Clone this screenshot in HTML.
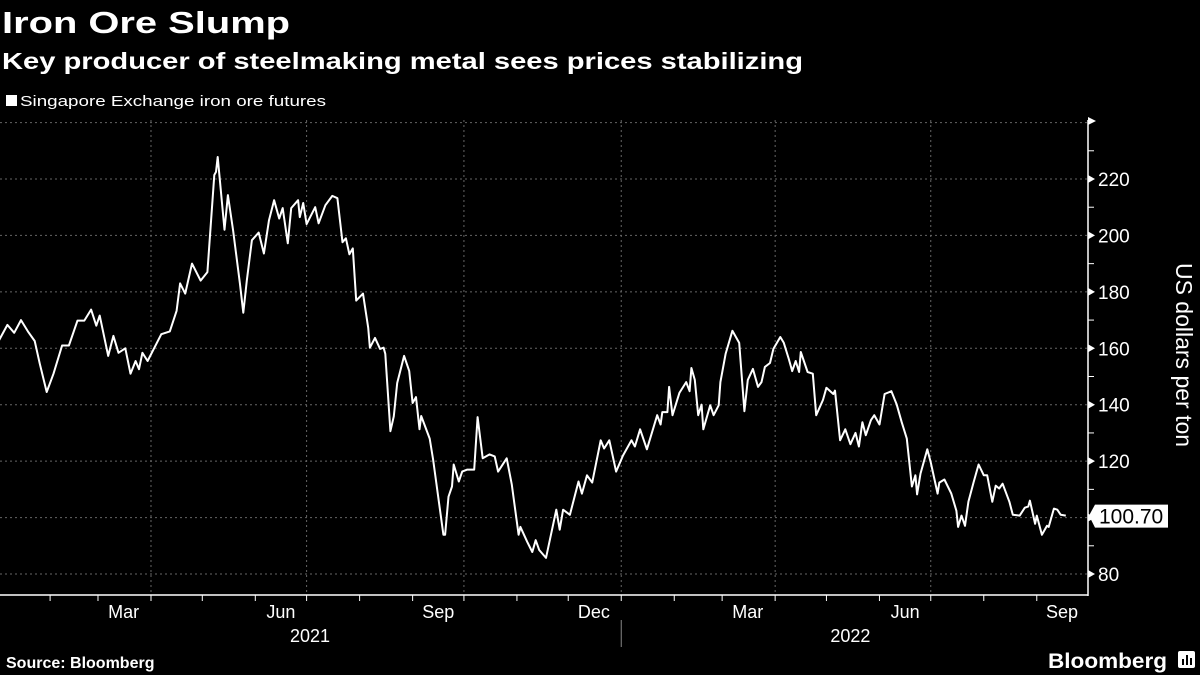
<!DOCTYPE html>
<html><head><meta charset="utf-8"><style>
html,body{margin:0;padding:0;background:#000;}
svg{display:block;font-family:"Liberation Sans",sans-serif;}
</style></head><body>
<svg id="chart" width="1200" height="675" viewBox="0 0 1200 675" xmlns="http://www.w3.org/2000/svg">
<rect width="1200" height="675" fill="#000"/>
<text x="2" y="33" fill="#fff" font-size="31" font-weight="bold" textLength="288" lengthAdjust="spacingAndGlyphs">Iron Ore Slump</text>
<text x="2" y="69" fill="#fff" font-size="23" font-weight="bold" textLength="801" lengthAdjust="spacingAndGlyphs">Key producer of steelmaking metal sees prices stabilizing</text>
<rect x="6" y="95" width="11" height="11" fill="#fff"/>
<text x="20" y="106" fill="#fff" font-size="15" textLength="306" lengthAdjust="spacingAndGlyphs">Singapore Exchange iron ore futures</text>
<g id="grid"></g>
<g id="axes"></g>
<g id="series"></g>
<text transform="translate(1176,355) rotate(90)" text-anchor="middle" fill="#fff" font-size="23">US dollars per ton</text>
<text x="6" y="668" fill="#fff" font-size="16" font-weight="bold">Source: Bloomberg</text>
<text x="1048" y="668" fill="#fff" font-size="21" font-weight="bold" textLength="119" lengthAdjust="spacingAndGlyphs">Bloomberg</text>
<g>
<rect x="1178" y="651" width="17" height="17" rx="2" fill="#fff"/>
<rect x="1182" y="659" width="2" height="6" fill="#000"/><rect x="1186" y="655" width="2" height="10" fill="#000"/><rect x="1190" y="658" width="2" height="7" fill="#000"/>
</g>
</svg>
<script>
const days = [0,6,10,14,18,22,25,29,33,38,42,47,51,55,58,60,65,68,71,75,78,81,83,85,88,96,101,105,107,110,114,119,123,127,128,129,133,135,138,142,144,146,149,153,156,159,162,165,167,170,172,176,177,179,181,186,188,192,196,199,202,204,206,208,210,214,217,218,221,224,226,227,230,232,234,238,241,243,245,247,248,253,255,261,262,264,266,267,270,272,275,279,281,284,288,291,293,298,301,305,306,310,313,315,317,321,327,329,331,335,340,342,345,348,353,355,358,362,366,371,373,376,380,386,388,389,392,393,395,399,403,405,406,408,410,412,413,417,419,422,423,426,430,434,437,439,442,445,447,449,452,454,458,460,463,465,467,469,470,474,477,479,483,485,489,490,493,496,499,502,504,506,508,511,513,516,519,523,526,529,532,535,537,538,540,544,546,550,551,554,558,561,562,564,566,568,571,574,577,579,582,584,586,588,592,594,598,601,603,604,607,608,611,614,615,618,620,622,625];
const prices = [161.6,168.3,165.5,170,166,162.6,154.5,144.5,151,161,161,169.8,169.8,173.7,168,171.6,157.3,164.4,158.4,160,151,155.5,152.6,158.4,155.5,165,166,173.3,183,179.4,190,184,187,221.4,222.5,227.8,202,214.3,201.8,183,172.6,184,198.3,201,193.6,205.4,212.5,206,209.7,197.2,209.7,212.5,206.5,211.5,204,210,204.3,210.7,214,213.2,197.6,199,193.3,195.4,176.9,179.4,167.3,160.2,163.7,159.8,160.2,158,130.6,135.9,147.7,157.3,152,140.6,142.7,131.3,136,128,120.6,93.9,93.9,107.4,111,118.8,112.8,116.3,117,117,135.6,121,122.4,121.7,116.3,121,111.7,93.9,96.7,91.4,87.8,92,88.5,85.7,102.8,95.7,102.8,101,112.8,108.5,115,112.4,127.4,124.5,127.4,116.3,122,127.4,125.2,131.3,124.2,136.3,133,137.4,137.4,146.3,136.3,144.2,148,144.8,153,148.8,136.3,140,131.3,139.8,136.3,139.8,148,158,166.2,161.9,137.7,148.8,152.7,146.3,148,153.4,154.8,159.8,164,162,156.2,151.9,155.5,151.6,158.7,151.6,151,136.3,141.7,146,143.8,145,127.4,131.3,126,130,125.2,133.8,129.2,134.5,136.3,133,143.8,144.8,140.2,133.8,128,111,115,108.2,115.6,124.2,119.5,108.5,112.4,113.5,108.5,102.4,96.7,100.7,97.1,105.6,112.4,118.8,115,115,105.6,111.3,110.3,112,105.6,101,100.7,103.5,103.9,106,97.8,100.7,93.9,97.1,96.7,103.2,102.8,101,100.7];
const yTicks = [80,100,120,140,160,180,200,220];
const monthStarts = [0,31,59,90,120,151,181,212,243,273,304,334,365,396,424,455,485,516,546,577,608];
const gridDays = [90,181,273,365,455,546];
const monthLabels = ["Mar","Jun","Sep","Dec","Mar","Jun","Sep"];
const monthLabelDays = [74,166,258,349,439,531,623];
const yearLabels = ["2021","2022"];
const yearLabelDays = [183,499];
const lastLabel = "100.70";

const NS = "http://www.w3.org/2000/svg";
const X1 = 1088;
function xs(d){ return (d - 1.7) * 1.71; }
function ys(v){ return 179 + (220 - v) * 56.43 / 20; }
function mk(tag, attrs, parent){ const e = document.createElementNS(NS, tag); for (const k in attrs) e.setAttribute(k, attrs[k]); parent.appendChild(e); return e; }
const grid = document.getElementById('grid'), axes = document.getElementById('axes'), series = document.getElementById('series');

for (const v of yTicks.concat([240])) {
  const l = mk('line', {x1:0, x2:X1, y1:ys(v), y2:ys(v), stroke:'#666', 'stroke-width':1, 'stroke-dasharray':'2,3'}, grid);
  
  
}
for (const d of gridDays) {
  const l = mk('line', {x1:xs(d), x2:xs(d), y1:120, y2:595, stroke:'#666', 'stroke-width':1, 'stroke-dasharray':'2,3'}, grid);
  
  
}
let a = mk('line', {x1:X1, x2:X1, y1:120, y2:596, stroke:'#fff', 'stroke-width':1.5}, axes);


a = mk('line', {x1:0, x2:X1, y1:595, y2:595, stroke:'#fff', 'stroke-width':1.5}, axes);


a = mk('path', {d:`M${X1},117 L${X1+8},121 L${X1},125 Z`, fill:'#fff'}, axes);


for (let v = 90; v <= 230; v += 20) {
  const t = mk('line', {x1:X1, x2:X1+6, y1:ys(v), y2:ys(v), stroke:'#fff', 'stroke-width':1}, axes);
  
  
}
for (const v of yTicks) {
  const y = ys(v);
  const t = mk('path', {d:`M${X1},${y-4} L${X1+7},${y} L${X1},${y+4} Z`, fill:'#fff'}, axes);
  
  
  const tx = mk('text', {x:1098, y:y+7, fill:'#fff', 'font-size':19}, axes);
  tx.textContent = v;
  
  
}
for (const d of monthStarts) {
  const x = xs(d); if (x < 0 || x > X1) continue;
  const t = mk('line', {x1:x, x2:x, y1:595, y2:601, stroke:'#fff', 'stroke-width':1}, axes);
  
  
}
monthLabels.forEach((m, i) => {
  let x = Math.min(xs(monthLabelDays[i]), 1062);
  const t = mk('text', {x:x, y:618, fill:'#fff', 'font-size':18, 'text-anchor':'middle'}, axes);
  t.textContent = m;
  
  
});
yearLabels.forEach((yr, i) => {
  const t = mk('text', {x:xs(yearLabelDays[i]), y:642, fill:'#fff', 'font-size':18, 'text-anchor':'middle'}, axes);
  t.textContent = yr;
  
  
});
a = mk('line', {x1:xs(365), x2:xs(365), y1:620, y2:647, stroke:'#888', 'stroke-width':1}, axes);



let d = '';
days.forEach((dy, i) => { d += (i ? 'L' : 'M') + xs(dy).toFixed(1) + ',' + ys(prices[i]).toFixed(1); });
const line = mk('path', {d:d, fill:'none', stroke:'#fff', 'stroke-width':2, 'stroke-linejoin':'round'}, series);



const lv = prices[prices.length - 1], ly = ys(lv);
const box = mk('path', {d:`M${X1+1},${ly} L${X1+7},${ly-11} L1168,${ly-11} L1168,${ly+12} L${X1+7},${ly+12} Z`, fill:'#fff'}, series);


const lt = mk('text', {x:1099, y:ly+8, fill:'#000', 'font-size':21}, series);
lt.textContent = lastLabel;


</script>
</body></html>
